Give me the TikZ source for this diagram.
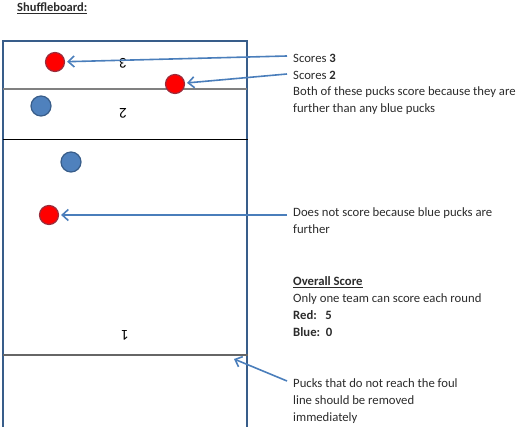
\documentclass[tikz,border=0pt]{standalone}
\usepackage{fontspec}
\setmainfont{Carlito}
\usetikzlibrary{arrows.meta}
\definecolor{boardline}{HTML}{385D8A}
\definecolor{puckblue}{HTML}{4F81BD}
\definecolor{puckred}{HTML}{FF0000}
\definecolor{redrim}{HTML}{9B2D3C}
\definecolor{arrowblue}{HTML}{4A7EBB}
\definecolor{txt}{HTML}{2B2B2B}
\begin{document}
\begin{tikzpicture}[x=1pt, y=-1pt,
    red puck/.style = {draw=redrim, fill=puckred, circle, line width=1.2pt, minimum size=19pt, inner sep=0pt},
    blue puck/.style = {draw=boardline, fill=puckblue, circle, line width=1.2pt, minimum size=20pt, inner sep=0pt},
    note/.style = {anchor=west, align=left, text=txt, inner xsep=6pt, inner ysep=0pt,
                   font=\fontsize{12.7}{17}\selectfont},
    zone/.style = {rotate=180, font=\fontsize{15}{17}\selectfont},
    pointer/.style = {draw=arrowblue, line width=1.6pt, -{Straight Barb[length=6pt, width=11pt]}, shorten >=2pt}]

      \useasboundingbox (0,0) rectangle (520,427);

      \node[anchor=west, inner sep=0pt, text=txt, font=\fontsize{12.5}{14}\selectfont\bfseries] (title) at (17,8) {\underline{Shuffleboard:}};

      \draw[boardline, line width=1.5pt] (3,440) -- (3,41) -- (247,41) -- (247,440);
      \draw[gray, line width=1.3pt] (3,89) -- (247,89);
      \draw[black, line width=0.8pt] (3,139) -- (248,139);
      \draw[gray!80!black, line width=1.6pt] (3,355) -- (248,355);

      \node[zone] (z3) at (123,63) {3};
      \node[zone] (z2) at (123,113) {2};
      \node[zone] (z1) at (125,335) {1};

      \node[red puck]  (R_3) at (55,62) {};
      \node[red puck]  (R_2) at (175,84) {};
      \node[blue puck] (B_1) at (41,106) {};
      \node[blue puck] (B_2) at (71,162) {};
      \node[red puck]  (R_0) at (49,215) {};

      \node[note] (scores3) at (287,58) {Scores \textbf{3}};
      \node[note] (scores2) at (287,75) {Scores \textbf{2}};
      \node[note] (both) at (287,100.5) {Both of these pucks score because they are\\further than any blue pucks};
      \node[note] (nope) at (287,220.5) {Does not score because blue pucks are\\further};
      \node[note] (overall) at (287,306.5) {\textbf{\underline{Overall Score}}\\Only one team can score each round\\\textbf{Red:\ \ \ 5}\\\textbf{Blue:\ \ 0}};
      \node[note] (foul) at (287,401) {Pucks that do not reach the foul\\line should be removed\\immediately};

      \coordinate (foulpt) at (234,359);

      \draw[pointer] ([yshift=2pt]scores3.west) to (R_3);
      \draw[pointer] ([yshift=1pt]scores2.west) to (R_2);
      \draw[pointer] (nope.west |- R_0) to (R_0);
      \draw[pointer, shorten >=0pt] ([yshift=20pt]foul.west) to (foulpt);

      \end{tikzpicture}
\end{document}
